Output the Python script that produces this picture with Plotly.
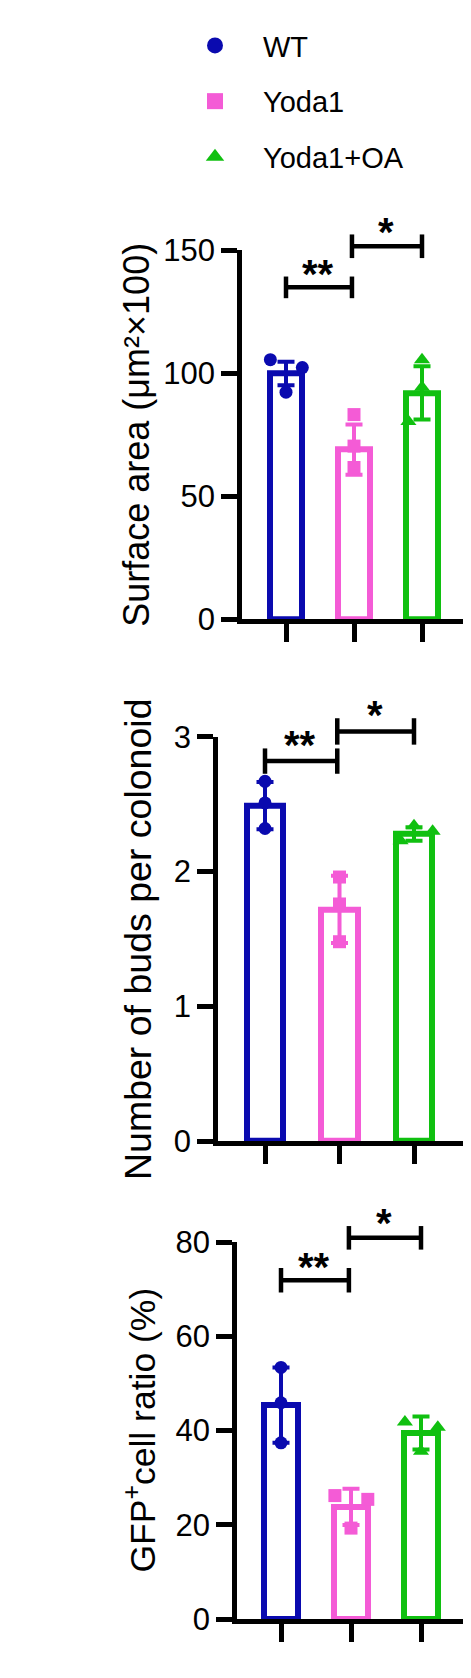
import plotly.graph_objects as go

# groups and colours
groups = ["WT", "Yoda1", "Yoda1+OA"]
colors = ["#0A0AAF", "#F45BD6", "#10C010"]
symbols = ["circle", "square", "triangle-up"]

# panel 1: surface area
area_mean = [99.9, 69.0, 92.0]
area_sd = [4.8, 10.2, 10.8]
area_pts = [[105.5, 102.3, 92.3], [83.2, 70.4, 61.7], [105.5, 94.3, 80.4]]

# panel 2: buds per colonoid
buds_mean = [2.49, 1.72, 2.28]
buds_sd = [0.175, 0.25, 0.05]
buds_pts = [[2.67, 2.51, 2.32], [1.96, 1.76, 1.48], [2.34, 2.30, 2.23]]

# panel 3: GFP+ cell ratio
gfp_mean = [45.4, 23.8, 39.5]
gfp_sd = [8.0, 3.85, 3.5]
gfp_pts = [[53.4, 45.9, 37.4], [26.2, 25.4, 19.3], [41.8, 40.7, 35.6]]

y_ticks = [[0, 50, 100, 150], [0, 1, 2, 3], [0, 20, 40, 60, 80]]
y_titles = ["Surface area (μm²×100)", "Number of buds per colonoid",
            "GFP<sup>+</sup>cell ratio (%)"]
# significance: (left group, right group, height, label)
sig = [
    [(0, 0.97, 134.9, "**"), (0.97, 2, 151.6, "*")],
    [(0, 0.97, 2.82, "**"), (0.97, 2, 3.04, "*")],
    [(0, 0.97, 71.9, "**"), (0.97, 2, 80.9, "*")],
]
sig_text_y = [[143.6, 160.8], [3.0, 3.22], [76.5, 85.8]]

# point spread within each bar (style only)
jitter = [
    [[-0.23, 0.24, 0], [0, 0, 0], [0, 0, -0.2]],
    [[0, 0, 0], [0, 0, 0], [0, 0.25, -0.18]],
    [[0, 0, 0], [-0.23, 0.24, 0], [-0.23, 0.24, 0]],
]

W, H = 471, 1678
FONT = "Arial, Liberation Sans, sans-serif"
# pixel geometry of each panel: y-axis x, x end, first tick x, tick step, y of 0, y of top tick
geo = [
    (232, 462, 278, 68.0, 607, 230),
    (208, 458, 257, 74.5, 1140, 727),
    (227, 462, 273, 70.0, 1628, 1243),
]
cap_half = [[4.4, 4.8], [0.094, 0.098], [2.6, 2.5]]
title_x = [129, 130, 133]
title_size = [36, 37.5, 35.5]

fig = go.Figure()
panels = [(area_mean, area_sd, area_pts), (buds_mean, buds_sd, buds_pts),
          (gfp_mean, gfp_sd, gfp_pts)]

for p, (mean, sd, pts) in enumerate(panels):
    xa = "x" if p == 0 else "x%d" % (p + 1)
    ya = "y" if p == 0 else "y%d" % (p + 1)
    for g in range(3):
        fig.add_trace(go.Bar(
            x=[g], y=[mean[g]], width=0.485, xaxis=xa, yaxis=ya,
            marker=dict(color="white", line=dict(color=colors[g], width=6)),
            error_y=dict(type="data", array=[sd[g]], color=colors[g],
                         thickness=4, width=8.5),
            showlegend=False, hoverinfo="skip"))
    for g in range(3):
        fig.add_trace(go.Scatter(
            x=[g + j for j in jitter[p][g]], y=pts[g], mode="markers",
            xaxis=xa, yaxis=ya, name=groups[g], showlegend=False,
            marker=dict(symbol=symbols[g], color=colors[g],
                        size=14 if g == 2 else 13)))

# legend entries
for g in range(3):
    fig.add_trace(go.Scatter(
        x=[None], y=[None], mode="markers", name=groups[g],
        legendgroup=groups[g],
        marker=dict(symbol=symbols[g], color=colors[g], size=18)))

layout = dict(width=W, height=H, margin=dict(l=0, r=0, t=0, b=0),
              paper_bgcolor="white", plot_bgcolor="white",
              font=dict(family=FONT, color="black"), bargap=0,
              showlegend=True)
annotations = []
shapes = []
for p in range(3):
    yax_x, x_end, tick0, step, y0, ytop = geo[p]
    sfx = "" if p == 0 else str(p + 1)
    ymax = y_ticks[p][-1]
    left = yax_x + 2
    layout["xaxis" + sfx] = dict(
        domain=[left / W, x_end / W], anchor="y" + sfx,
        range=[(left - tick0) / step, (x_end - tick0) / step],
        showline=True, linecolor="black", linewidth=4.5, ticks="outside",
        ticklen=18, tickwidth=4.5, tickcolor="black", tickvals=[0, 1, 2],
        showticklabels=False, showgrid=False, zeroline=False, fixedrange=True)
    layout["yaxis" + sfx] = dict(
        domain=[1 - y0 / H, 1 - ytop / H], anchor="x" + sfx,
        range=[0, ymax], showline=True, linecolor="black", linewidth=4.5,
        ticks="outside", ticklen=16, tickwidth=4.5, tickcolor="black",
        tickvals=y_ticks[p], tickfont=dict(size=31, family=FONT),
        showgrid=False, zeroline=False, fixedrange=True)
    for k, (a, b, h, lab) in enumerate(sig[p]):
        yf = h / ymax
        dh = cap_half[p][k] / ymax
        for (x0, x1, ya0, ya1) in [(a, b, yf, yf), (a, a, yf - dh, yf + dh),
                                   (b, b, yf - dh, yf + dh)]:
            shapes.append(dict(type="line", xref="x" + sfx, yref="y%s domain" % sfx,
                               x0=x0, x1=x1, y0=ya0, y1=ya1,
                               line=dict(color="black", width=4.5)))
        annotations.append(dict(
            x=(a + b) / 2 - 0.01, y=sig_text_y[p][k] / ymax,
            xref="x" + sfx, yref="y%s domain" % sfx, text="<b>%s</b>" % lab,
            showarrow=False, yshift=16,
            font=dict(size=40, family=FONT, color="black")))
    annotations.append(dict(
        x=title_x[p] / W, y=0.5, xref="paper", yref="y%s domain" % sfx,
        text=y_titles[p], textangle=-90, showarrow=False,
        xanchor="center", yanchor="middle",
        font=dict(size=title_size[p], family=FONT, color="black")))

layout["annotations"] = annotations
layout["shapes"] = shapes
layout["legend"] = dict(x=159 / W, y=1 + 5 / H, xanchor="left", yanchor="top",
                        font=dict(size=29, family=FONT, color="black"),
                        itemwidth=86, tracegroupgap=15, bgcolor="rgba(0,0,0,0)")
fig.update_layout(**layout)

fig.write_html("out.html")
